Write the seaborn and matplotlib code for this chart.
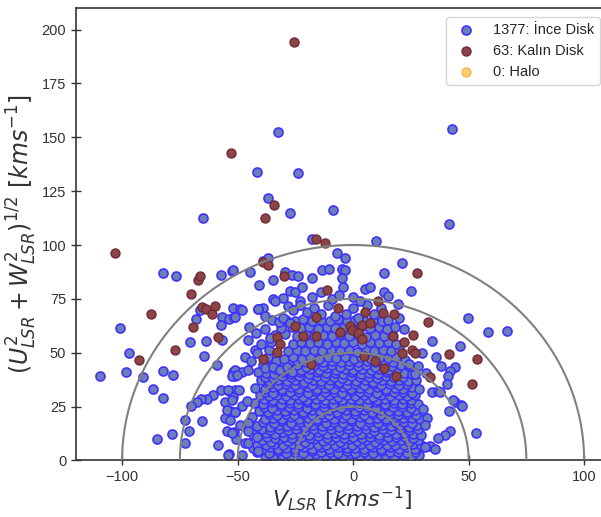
import numpy as np
import pandas as pd
import matplotlib
matplotlib.use("Agg")
import matplotlib.pyplot as plt
import seaborn as sns

# Toomre diyagrami: V_LSR ve (U^2 + W^2)^(1/2), km/s

# ince disk - seyrek dis noktalar
thin_outer = [
    (-32.5, 152.6), (-41.4, 133.7), (-24, 133.4), (-36.7, 121.8), (-27.3, 115), (-64.8, 112.4),
    (-8.5, 116.4), (-17.9, 103), (42.9, 154), (41.7, 109.6), (9.8, 101.9),
    (-82.5, 86.9), (-76.8, 85.5), (-57.4, 86.1), (-52.4, 88.1), (-100.9, 61.4), (-66.4, 69.8),
    (-67.8, 65.6), (-56.7, 66.8), (-53.8, 65.6), (-51.5, 66.7), (-51.8, 70.7), (-57, 62.8),
    (-70.6, 55.1), (-63.5, 55.6), (-56.6, 55.7), (-97, 50), (-64.4, 48.3), (-59, 44.3),
    (-109.5, 39.4), (-98.1, 40.9), (-90.9, 38.8), (-82.5, 41.4), (-77.9, 39.8), (-86.7, 33.2),
    (-82.5, 29.2), (-51.9, 40.9), (-51.2, 39.4), (-57.3, 32.7), (-53.8, 32.4), (-51.2, 32.6),
    (-60.6, 30.4), (-63.1, 28.6), (-65.9, 28.6), (-67.7, 27), (-70, 25.2), (-55.5, 27.3),
    (-51.8, 29.3), (-53.5, 22.9), (-51.2, 22.4), (-55.3, 19.9), (-72.7, 18.8), (-65.5, 18.2),
    (-70.9, 13.8), (-54.8, 13.8), (-51.6, 13.4), (-78.6, 12.5), (-84.7, 10), (-72.6, 8.3),
    (-58.3, 7.3), (-53.8, 2.8), (-50.5, 10),
    (-6.8, 96.2), (-3.5, 94.2), (-38.8, 92.6), (-36.7, 93.8), (-52.1, 88.4), (-44.6, 87.7),
    (-40.6, 81.5), (-34.5, 83.8), (-29.4, 87.7), (-26.5, 86.1), (-23.7, 85.4), (-17.6, 84.9),
    (-13.5, 88.3), (-10.3, 88.8), (-4.9, 89.1), (-3.5, 88.4), (-4.9, 84.9), (-4.2, 80.7),
    (-27.3, 78.7), (-25.1, 78), (-22.2, 80.3), (-22.9, 74.1), (-34.5, 74.9), (-30.4, 75.6),
    (-38.8, 70.7), (-41, 70.2), (-48.9, 70.2), (-51.1, 66.4),
    (21.3, 91.5), (13.5, 86.9), (25.1, 78.7), (5.2, 79.8), (7.4, 80.7), (13.5, 78.2),
    (15.3, 76.4), (19.6, 72.5), (49.9, 65.9), (34.3, 55.6), (46.3, 53), (43.9, 43.5),
    (42, 41.7), (41, 39.4), (40.5, 35.5), (41.6, 23.1), (44.2, 27), (46.8, 25.8),
    (34.1, 31.7), (36.9, 32.4), (53.1, 12.8), (42, 13.9), (39.8, 11.6), (36.9, 10.4),
    (33.3, 6.9), (30.9, 6.2), (35.5, 5.4), (58.6, 59.7), (66.5, 60.2),
    (31.6, 40.8), (30.4, 23.9), (32, 19.7), (31.2, 16.6), (37.6, 32), (43.4, 28.2), (47, 25.4),
    (-48.2, 69.9), (-41.2, 70.3), (-33.8, 73.8), (-28, 71.8), (-38.1, 67.1), (-35.2, 65.3),
    (-32.3, 64.5), (-30.2, 66.1), (-27.3, 63.8), (-45.3, 56), (-42.4, 51.4), (-41.7, 49.8),
    (-47, 48), (-51.1, 42.1), (-48.2, 41.3), (-45.3, 42.1), (-52.5, 39), (-50.3, 39.8),
    (-41, 41.3), (-38.1, 42.9), (-34.5, 43.6), (-31.6, 42.1), (-28.7, 43.6), (-26.5, 41.3),
    (-54, 32.8), (-49.6, 32.8), (-52.5, 28.2), (-54.6, 23.5), (-51.1, 22.7), (-48.2, 25.1),
    (-46, 27.4), (-53.2, 18.9), (-48.9, 16.6), (-45.3, 17.4), (-52.5, 12.7), (-45.3, 13.5),
    (-46.7, 8.1), (-41.7, 11.1), (-54, 2.6), (-48.2, 2.6), (-45.3, 8.1), (-41, 4.2),
    (-26, 70), (-23, 72), (-20, 69), (-17, 71), (-14, 68), (-11, 72), (-8, 67),
    (-3, 68), (0, 71), (2, 66), (6, 72), (9, 68), (12, 71), (15, 65), (18, 62), (20, 66),
    (22, 61), (-18, 76), (-14, 78), (-9, 75), (-6, 77), (0, 76), (3, 74), (-45, 62), (-42, 59),
    (-38, 61), (-36, 57), (-40, 54), (-44, 46), (24, 45), (28, 44), (27, 40), (36, 48),
    (38, 44), (30, 50),
]

# ince disk - yogun cekirdek
thin_core = [
    (-38, 2.1), (-34.5, 1.6), (-30.8, 2.7), (-27, 1.8), (-23.4, 2.4), (-19.6, 1.5), (-15.9, 2.9),
    (-12.1, 1.9), (-8.5, 2.5), (-4.6, 1.7), (-1, 2.8), (2.8, 1.9), (6.5, 2.4), (10.3, 1.6),
    (14, 2.7), (17.8, 1.8), (21.5, 2.5), (25.1, 1.7), (28.6, 2.6),
    (-41.5, 3.9), (-36.3, 3.6), (-32.7, 4.2), (-28.9, 3.7), (-25.1, 4.1), (-21.5, 3.5), (-17.6, 4.3),
    (-13.9, 3.8), (-10.2, 4.0), (-6.4, 3.4), (-2.7, 4.2), (1, 3.7), (4.6, 4.1), (8.4, 3.5),
    (12.1, 4.2), (15.9, 3.8), (19.6, 4), (23.3, 3.6), (26.9, 4.1),
    (-43.2, 5.8), (-39.8, 5.1), (-36.1, 6.2), (-32.6, 5.4), (-28.9, 6), (-25.2, 5.2), (-21.4, 6.3),
    (-17.7, 5.5), (-14.1, 6.1), (-10.3, 5.3), (-6.6, 6.4), (-2.8, 5.6), (0.9, 6), (4.7, 5.2),
    (8.4, 6.3), (12.2, 5.4), (15.9, 6.1), (19.7, 5.3), (23.3, 6.2), (27, 5.5),
    (-41.6, 7.4), (-37.8, 7.1), (-34.1, 7.6), (-30.4, 7), (-26.6, 7.5), (-22.9, 7.2), (-19.1, 7.7),
    (-15.4, 7.1), (-11.6, 7.4), (-7.9, 7), (-4.1, 7.6), (-0.4, 7.2), (3.3, 7.5), (7.1, 7),
    (10.8, 7.6), (14.6, 7.2), (18.3, 7.4), (22, 7), (25.8, 7.5), (29.4, 7.3),
    (-39.5, 9.3), (-35.6, 8.7), (-31.9, 9.8), (-28.2, 8.9), (-24.4, 9.6), (-20.7, 8.8), (-16.9, 9.9),
    (-13.2, 9), (-9.4, 9.5), (-5.7, 8.7), (-1.9, 9.8), (1.8, 8.9), (5.6, 9.6), (9.3, 8.8),
    (13.1, 9.7), (16.8, 9), (20.6, 9.4), (24.3, 8.7), (28.1, 9.6),
    (-37.4, 10.9), (-33.7, 10.5), (-30, 11.1), (-26.3, 10.6), (-22.5, 11), (-18.8, 10.4), (-15, 11.2),
    (-11.3, 10.6), (-7.5, 10.9), (-3.8, 10.4), (0, 11.1), (3.7, 10.6), (7.5, 10.9), (11.2, 10.4),
    (15, 11.1), (18.7, 10.7), (22.4, 10.9), (26.1, 10.5),
    (-43.5, 12.3), (-37.7, 12.9), (-34, 12.1), (-30.3, 13), (-26.5, 12.2), (-22.8, 12.8), (-19, 12),
    (-15.3, 13.1), (-11.5, 12.4), (-7.8, 12.9), (-4, 12.1), (-0.3, 13), (3.5, 12.2), (7.2, 12.8),
    (11, 12), (14.7, 13.1), (18.5, 12.3), (22.2, 12.9), (25.9, 12.1), (29.5, 11.8),
    (-39.5, 14.4), (-35.8, 14), (-32.1, 14.6), (-28.4, 14.1), (-24.6, 14.5), (-20.9, 13.9),
    (-17.1, 14.7), (-13.4, 14.1), (-9.6, 14.4), (-5.9, 13.9), (-2.1, 14.6), (1.6, 14.1), (5.4, 14.4),
    (9.1, 13.9), (12.9, 14.6), (16.6, 14.2), (20.4, 14.4), (24.1, 14), (27.9, 14.5),
    (-41.4, 16.2), (-36, 15.7), (-32.3, 16.5), (-28.5, 15.8), (-24.8, 16.4), (-21, 15.6),
    (-17.3, 16.6), (-13.5, 15.9), (-9.8, 16.3), (-6, 15.5), (-2.3, 16.5), (1.5, 15.8), (5.2, 16.4),
    (9, 15.6), (12.7, 16.6), (16.5, 15.9), (20.2, 16.3), (24, 15.7), (27.5, 16.4),
    (-39.2, 17.9), (-34.3, 17.5), (-30.6, 18.1), (-26.9, 17.6), (-23.1, 18), (-19.4, 17.4),
    (-15.6, 18.2), (-11.9, 17.6), (-8.1, 17.9), (-4.4, 17.4), (-0.6, 18.1), (3.1, 17.6), (6.9, 17.9),
    (10.6, 17.4), (14.4, 18.1), (18.1, 17.7), (21.9, 17.9), (25.6, 17.5),
    (-43.8, 20.1), (-38.3, 19.3), (-34.5, 19.9), (-30.8, 19.2), (-27, 20), (-23.3, 19.4),
    (-19.5, 19.8), (-15.8, 19.1), (-12, 20.1), (-8.3, 19.3), (-4.5, 19.9), (-0.8, 19.2), (3, 20),
    (6.7, 19.4), (10.5, 19.8), (14.2, 19.1), (18, 20.1), (21.7, 19.5), (25.4, 19.9), (28.8, 19.3),
    (-36.5, 21.4), (-32.8, 21), (-29.1, 21.6), (-25.4, 21.1), (-21.6, 21.5), (-17.9, 20.9),
    (-14.1, 21.7), (-10.4, 21.1), (-6.6, 21.4), (-2.9, 20.9), (0.9, 21.6), (4.6, 21.1), (8.4, 21.4),
    (12.1, 20.9), (15.9, 21.6), (19.6, 21.2), (23.4, 21.4), (27.1, 21),
    (-40.6, 23.2), (-36.8, 22.7), (-33, 23.5), (-29.3, 22.8), (-25.5, 23.4), (-21.8, 22.6),
    (-18, 23.5), (-14.3, 22.9), (-10.5, 23.3), (-6.8, 22.5), (-3, 23.4), (0.7, 22.8), (4.5, 23.3),
    (8.2, 22.6), (12, 23.5), (15.7, 22.9), (19.5, 23.2), (23.2, 22.7), (26.8, 23.4),
    (-38.7, 24.9), (-35, 24.5), (-31.3, 25.1), (-27.6, 24.6), (-23.8, 25), (-20.1, 24.4),
    (-16.3, 25.2), (-12.6, 24.6), (-8.8, 24.9), (-5.1, 24.4), (-1.3, 25.1), (2.4, 24.6), (6.2, 24.9),
    (9.9, 24.4), (13.7, 25.1), (17.4, 24.7), (21.2, 24.9), (24.9, 24.5),
    (-43, 26.8), (-38.8, 26.2), (-35, 27), (-31.3, 26.3), (-27.5, 26.9), (-23.8, 26.1), (-20, 27),
    (-16.3, 26.4), (-12.5, 26.8), (-8.8, 26), (-5, 26.9), (-1.3, 26.3), (2.5, 26.8), (6.2, 26.1),
    (10, 27), (13.7, 26.4), (17.5, 26.8), (21.2, 26.2), (24.9, 26.9), (28.2, 26.3),
    (-38.4, 28.4), (-34.7, 28), (-31, 28.6), (-27.3, 28.1), (-23.5, 28.5), (-19.8, 27.9),
    (-16, 28.7), (-12.3, 28.1), (-8.5, 28.4), (-4.8, 27.9), (-1, 28.6), (2.7, 28.1), (6.5, 28.4),
    (10.2, 27.9), (14, 28.6), (17.7, 28.2), (21.5, 28.4), (25.2, 28),
    (-40.2, 30.2), (-36.5, 29.7), (-32.8, 30.5), (-29, 29.8), (-25.3, 30.4), (-21.5, 29.6),
    (-17.8, 30.5), (-14, 29.9), (-10.3, 30.3), (-6.5, 29.5), (-2.8, 30.4), (1, 29.8), (4.7, 30.3),
    (8.5, 29.6), (12.2, 30.5), (16, 29.9), (19.7, 30.3), (23.4, 29.7), (27, 30.4),
    (-38.3, 31.9), (-34.6, 31.5), (-30.9, 32.1), (-27.2, 31.6), (-23.4, 32), (-19.7, 31.4),
    (-15.9, 32.2), (-12.2, 31.6), (-8.4, 31.9), (-4.7, 31.4), (-0.9, 32.1), (2.8, 31.6), (6.6, 31.9),
    (10.3, 31.4), (14.1, 32.1), (17.8, 31.7), (21.6, 31.9), (25.3, 31.5),
    (-42.5, 33.8), (-38.3, 33.2), (-34.5, 34), (-30.8, 33.3), (-27, 33.9), (-23.3, 33.1),
    (-19.5, 34), (-15.8, 33.4), (-12, 33.8), (-8.3, 33), (-4.5, 33.9), (-0.8, 33.3), (3, 33.8),
    (6.7, 33.1), (10.5, 34), (14.2, 33.4), (18, 33.8), (21.7, 33.2), (25.3, 33.9), (28.7, 33.4),
    (-36.4, 35.4), (-32.7, 35), (-29, 35.6), (-25.3, 35.1), (-21.5, 35.5), (-17.8, 34.9),
    (-14, 35.7), (-10.3, 35.1), (-6.5, 35.4), (-2.8, 34.9), (1, 35.6), (4.7, 35.1), (8.5, 35.4),
    (12.2, 34.9), (16, 35.6), (19.7, 35.2), (23.5, 35.4),
    (-40, 37.2), (-36.2, 36.7), (-32.5, 37.5), (-28.7, 36.8), (-25, 37.4), (-21.2, 36.6),
    (-17.5, 37.5), (-13.7, 36.9), (-10, 37.3), (-6.2, 36.5), (-2.5, 37.4), (1.3, 36.8), (5, 37.3),
    (8.8, 36.6), (12.5, 37.5), (16.3, 36.9), (20, 37.3), (23.6, 36.7), (27.2, 37.3),
    (-38.2, 38.9), (-34.5, 38.5), (-30.8, 39.1), (-27.1, 38.6), (-23.3, 39), (-19.6, 38.4),
    (-15.8, 39.2), (-12.1, 38.6), (-8.3, 38.9), (-4.6, 38.4), (-0.8, 39.1), (2.9, 38.6), (6.7, 38.9),
    (10.4, 38.4), (14.2, 39.1), (17.9, 38.7), (21.7, 38.9),
    (-37.5, 40.7), (-34.2, 40.2), (-30.5, 41), (-26.8, 40.3), (-23, 40.9), (-19.3, 40.1),
    (-15.5, 41), (-11.8, 40.4), (-8, 40.8), (-4.3, 40), (-0.5, 40.9), (3.2, 40.3), (7, 40.8),
    (10.7, 40.1), (14.5, 41), (18.2, 40.4), (21.9, 40.8), (25.5, 40.2),
    (-33.6, 42.4), (-29.9, 42), (-26.2, 42.6), (-22.4, 42.1), (-18.7, 42.5), (-14.9, 41.9),
    (-11.2, 42.7), (-7.4, 42.1), (-3.7, 42.4), (0.1, 41.9), (3.8, 42.6), (7.6, 42.1), (11.3, 42.4),
    (15.1, 41.9), (18.8, 42.6),
    (-39.2, 44.2), (-35.5, 43.7), (-31.8, 44.5), (-28, 43.8), (-24.3, 44.4), (-20.5, 43.6),
    (-16.8, 44.5), (-13, 43.9), (-9.3, 44.3), (-5.5, 43.5), (-1.8, 44.4), (2, 43.8), (5.7, 44.3),
    (9.5, 43.6), (13.2, 44.5), (17, 43.9), (20.7, 44.3), (24.2, 43.7),
    (-33.2, 46.1), (-27.9, 45.7), (-24.1, 46.3), (-20.4, 45.8), (-16.6, 46.2), (-12.9, 45.6),
    (-9.1, 46.4), (-5.4, 45.8), (-1.6, 46.1), (2.1, 45.6), (5.9, 46.3), (9.6, 45.8), (13.4, 46.1),
    (17.1, 45.6),
    (-36.8, 47.8), (-29.8, 47.2), (-26, 48), (-22.3, 47.3), (-18.5, 47.9), (-14.8, 47.1),
    (-11, 48), (-7.3, 47.4), (-3.5, 47.8), (0.2, 47), (3.5, 47.9), (7.7, 47.2), (11.5, 48),
    (15.2, 47.4), (18.6, 47.8), (22.6, 46.8),
    (-36.5, 51.2), (-28.2, 50.7), (-24.5, 51.5), (-20.8, 50.8), (-17, 51.4), (-13.3, 50.6),
    (-9.5, 51.5), (-5.8, 50.9), (-2, 51.3), (1.7, 50.5), (5.5, 51.4), (9.2, 50.8), (13, 51.3),
    (16.6, 50.6), (19.8, 51.6),
    (-35.5, 54.8), (-26.2, 54.2), (-22.5, 55), (-18.8, 54.3), (-15, 54.9), (-11.3, 54.1),
    (-7.5, 55), (-3.8, 54.4), (0, 54.8), (3.7, 54), (7.5, 54.9), (11.2, 54.3), (15, 54.8), (18.5, 54.1),
    (-33.8, 58.3), (-29.5, 58.8), (-24.2, 57.7), (-20.5, 58.5), (-16.8, 57.8), (-13, 58.4),
    (-9.3, 57.6), (-5.5, 58.5), (-1.8, 57.9), (2, 58.3), (5.7, 57.5), (9.5, 58.4), (13.2, 57.8), (16.9, 58.3),
    (-31.3, 61.7), (-26.5, 62.1), (-22.7, 61.3), (-18.9, 61.9), (-15.2, 61.2), (-11.4, 62),
    (-7.7, 61.4), (-3.9, 61.8), (-0.2, 61.1), (3.5, 62), (7.3, 61.4), (11, 61.8), (14.8, 61.2),
    (-29, 65.2), (-25.2, 64.8), (-21.5, 65.5), (-17.7, 64.7), (-14, 65.4), (-10.2, 64.6),
    (-6.5, 65.5), (-2.7, 64.9), (1, 65.3), (4.8, 64.6), (8.5, 65.4), (12.3, 64.8),
]

# kalin disk
thick_disk = [
    (-25.5, 194.2), (-52.8, 142.8), (-34.3, 118.7), (-38.1, 112.4), (-16, 102.6), (-12.1, 100.8),
    (-102.9, 96.5), (-67.1, 83.8), (-66.4, 85.4), (-70.1, 77.5), (-87.7, 68.2), (-65.4, 71.3),
    (-63.8, 70.2), (-59.6, 71.9), (-61.3, 67.8), (-69.3, 62), (-58.3, 57.4), (-77.1, 51.1),
    (-92.8, 46.5),
    (-39.1, 91.9), (-36.7, 90.6), (-30.1, 85.6), (-11.5, 79.2), (-6.4, 70.6), (-16, 66.4),
    (-25.1, 62.2), (-21.5, 57.9), (-16, 57.6), (-33, 57.1), (-31.6, 54), (-32.8, 50.2),
    (-39.1, 47.1), (-18.3, 44.8), (-5.6, 59.7), (-1.3, 62.5), (-0.6, 60.4),
    (27.6, 86.9), (10.9, 73.8), (5.2, 69.1), (13.1, 68.4), (17.9, 68.1), (32.2, 64.5),
    (3.8, 63), (7.4, 64), (2.3, 59.1), (3.8, 56.3), (17.4, 57.9), (22.2, 54.8), (26.1, 58.3),
    (25.4, 51.4), (26.8, 49.8), (21.1, 50.1), (4.9, 48.3), (9.5, 46.4), (13.5, 42.9),
    (18.5, 39), (33.3, 38.9), (41.6, 49.4), (53.5, 47.1), (51.4, 35.5),
]

# halo (yildiz yok)
halo = []

labels = ["1377: İnce Disk", "63: Kalın Disk", "0: Halo"]
radii = [25, 50, 75, 100]

thin = pd.DataFrame(thin_core + thin_outer, columns=["V", "UW"])
thick = pd.DataFrame(thick_disk, columns=["V", "UW"])
hal = pd.DataFrame(halo, columns=["V", "UW"], dtype=float)

sns.set_style("ticks")
plt.rcParams['font.family'] = ['Liberation Sans', 'DejaVu Sans']
plt.rcParams['mathtext.fontset'] = 'dejavusans'

fig = plt.figure(figsize=(6.01, 5.17), dpi=100)
ax = fig.add_axes([0.1263, 0.1093, 0.886, 0.8752])

sns.scatterplot(data=thin, x="V", y="UW", ax=ax, s=42, color="#6a7fb6",
                edgecolor="#4030ff", linewidth=1.2, label=labels[0], zorder=2)
sns.scatterplot(data=thick, x="V", y="UW", ax=ax, s=42, color="#8c4448",
                edgecolor="#6e2b33", linewidth=1.0, label=labels[1], zorder=3)
ax.scatter(hal["V"], hal["UW"], s=42, color="#fdc35a", edgecolor="#f5ad3a",
           linewidth=1.0, alpha=0.85, label=labels[2], zorder=3)

# sabit hiz yaylari
t = np.linspace(0, np.pi, 300)
for r in radii:
    ax.plot(r * np.cos(t), r * np.sin(t), color="gray", lw=1.5, zorder=4)

ax.set_xlim(-120, 110.5)
ax.set_ylim(0, 210)
ax.set_xticks([-100, -50, 0, 50, 100])
ax.set_yticks(np.arange(0, 201, 25))
ax.tick_params(axis="both", direction="inout", length=7, width=1,
               labelsize=10.5, colors="#333333", labelcolor="#333333")
for sp in ax.spines.values():
    sp.set_color("#333333")
    sp.set_linewidth(1.2)

ax.set_xlabel(r"$V_{LSR}\ [kms^{-1}]$", fontsize=16, color="#333333", labelpad=0)
ax.set_ylabel(r"$(U^2_{LSR} + W^2_{LSR})^{1/2}\ [kms^{-1}]$", fontsize=17, color="#333333",
              labelpad=2)

ax.legend(loc="upper right", fontsize=10.5, borderaxespad=0.6, framealpha=0.8)

fig.savefig("out.png", dpi=100)
